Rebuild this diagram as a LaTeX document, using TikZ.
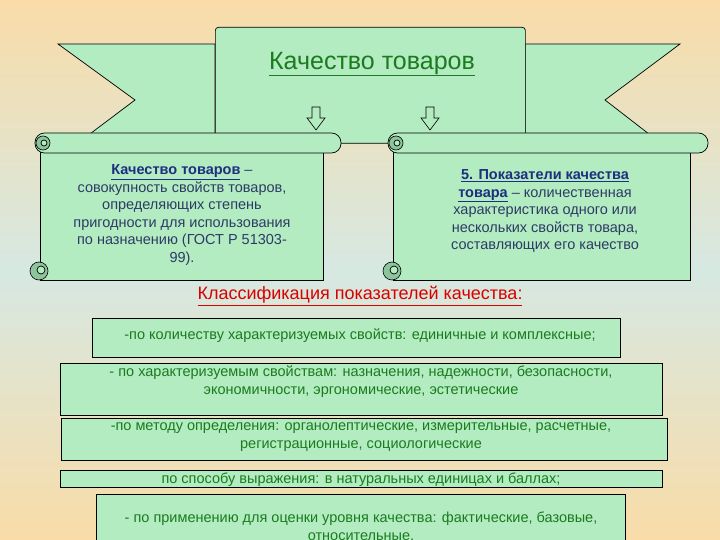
\documentclass[tikz,border=0pt]{standalone}
\usepackage{fontspec}
\setmainfont{Liberation Sans}
\newcommand\myul[1]{\underline{#1}}
\definecolor{fillg}{HTML}{B2ECC0}
\definecolor{darkg}{HTML}{8CC49C}
\definecolor{peach}{HTML}{F9DCA8}
\definecolor{bluish}{HTML}{D6E8E2}
\definecolor{gtext}{HTML}{1C7A20}
\definecolor{btext}{HTML}{2E3A66}
\definecolor{htext}{HTML}{1E2E80}
\begin{document}
\begin{tikzpicture}[x=1pt,y=-1pt,
  shp/.style={draw=black,fill=fillg,line width=0.7pt},
  curl/.style={draw=black,fill=darkg,line width=0.6pt},
  boxt/.style={font=\fontsize{14.5}{18}\selectfont,text=gtext,align=center},
  scrt/.style={font=\fontsize{14.5}{17.5}\selectfont,text=btext,align=center}]
\useasboundingbox (0,0) rectangle (720,540);
\shade[top color=peach,bottom color=bluish] (0,0) rectangle (720,270);
\shade[top color=bluish,bottom color=peach] (0,270) rectangle (720,540);
% banner tails
\draw[shp] (58,44) -- (215,44) -- (215,143) -- (290,143) -- (290,158) -- (58,158) -- (135,100) -- cycle;
\draw[shp] (680,44) -- (525,44) -- (525,143) -- (447,143) -- (447,158) -- (680,158) -- (605,100) -- cycle;
\draw[curl] (215,143) -- (290,143) -- (290,154) -- (222,154) .. controls (212,152) and (212,145) .. (215,143);
\draw[curl] (525,143) -- (447,143) -- (447,154) -- (518,154) .. controls (528,152) and (528,145) .. (525,143);
\node[shp,minimum width=310,minimum height=116,anchor=north west,rounded corners=3] (banner) at (215,27) {};
\node[font=\fontsize{25}{28}\selectfont,text=gtext] (title) at (372,64) {\myul{Качество товаров}};
% arrows
\foreach \x/\n in {316/a1,430/a2}{
 \draw[shp,line width=0.6pt] (\x-4,107) -- (\x+4,107) -- (\x+4,118) -- (\x+9,118) -- (\x,130) -- (\x-9,118) -- (\x-4,118) -- cycle;
}
% scrolls
\foreach \l/\r/\n in {42/323/s1,395/690/s2}{
 \draw[shp] (\l,150) -- (\r,150) -- (\r,280) -- (\l-2,280) -- (\l-2,150) -- cycle;
 \draw[shp,rounded corners=9.5] (\l-7,133) rectangle (\r+18,153);
 \draw[curl] (\l+1,143) circle[radius=7];
 \draw[shp] (\l+2,143) circle[radius=3];
 \draw[curl] (\l-3,271) circle[radius=9];
 \draw[shp] (\l-1,270) circle[radius=4];
}
\node[scrt] (t1) at (182,215) {\textcolor{htext}{\textbf{\myul{Качество товаров}}} –\\совокупность свойств товаров,\\определяющих степень\\пригодности для использования\\по назначению (ГОСТ Р 51303-\\99).};
\node[scrt] (t2) at (545,211) {\textcolor{htext}{\textbf{\myul{5. Показатели качества}}}\\\textcolor{htext}{\textbf{\myul{товара}}} – количественная\\характеристика одного или\\нескольких свойств товара,\\составляющих его качество};
\node[font=\fontsize{18}{20}\selectfont,text=red!85!black] (cl) at (360,296) {\myul{Классификация показателей качества:}};
% boxes
\draw[shp] (92,318) rectangle (620,357);
\node[boxt] (b1) at (360,336) {-по количеству характеризуемых свойств: единичные и комплексные;};
\draw[shp] (60,363) rectangle (662,415);
\node[boxt] (b2) at (361,382) {- по характеризуемым свойствам: назначения, надежности, безопасности,\\экономичности, эргономические, эстетические};
\draw[shp] (61,418) rectangle (667,460);
\node[boxt] (b3) at (361,437) {-по методу определения: органолептические, измерительные, расчетные,\\регистрационные, социологические};
\draw[shp] (60,470) rectangle (662,487);
\node[boxt] (b4) at (361,479.5) {по способу выражения: в натуральных единицах и баллах;};
\draw[shp] (96,494) rectangle (625,545);
\node[boxt] (b5) at (361,526) {- по применению для оценки уровня качества: фактические, базовые,\\относительные.};
\end{tikzpicture}
\end{document}
